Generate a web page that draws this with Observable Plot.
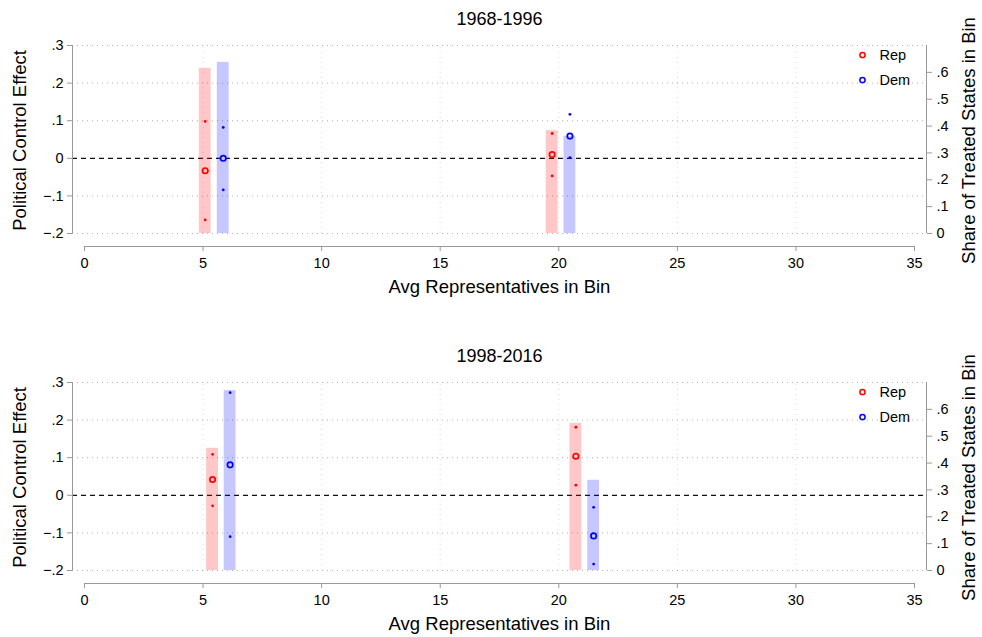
<!DOCTYPE html>
<html><head><meta charset="utf-8">
<script src="https://cdn.jsdelivr.net/npm/d3@7"></script>
<script src="https://cdn.jsdelivr.net/npm/@observablehq/plot@0.6"></script>
<style>
body{margin:0;background:#fff;}
#chart{width:982px;height:637px;background:#fff;}
#chart svg{display:block;}
.gap{height:37px;}
</style></head><body><div id="chart"></div>
<script>
// ---- data ----
const periods = ["1968-1996", "1998-2016"];
const parties = ["Rep", "Dem"];
const partyColors = ["red", "blue"];
const binParty = ["Rep", "Dem", "Rep", "Dem"];
const binX = [[5.09, 5.85, 19.72, 20.47], [5.40, 6.14, 20.72, 21.47]];
const estimate = [[-0.033, 0.000, 0.010, 0.059], [0.042, 0.081, 0.104, -0.108]];
const ciHigh = [[0.098, 0.082, 0.066, 0.117], [0.109, 0.273, 0.181, -0.032]];
const ciLow = [[-0.164, -0.084, -0.047, 0.002], [-0.028, -0.110, 0.027, -0.183]];
const share = [[0.615, 0.637, 0.383, 0.362], [0.455, 0.670, 0.548, 0.336]];
const xTicks = [0, 5, 10, 15, 20, 25, 30, 35];
const yTicks = [-0.2, -0.1, 0, 0.1, 0.2, 0.3];
const shareTicks = [0, 0.1, 0.2, 0.3, 0.4, 0.5, 0.6];
const shareMax = 0.7;
const xTitle = "Avg Representatives in Bin";
const yTitle = "Political Control Effect";
const y2Title = "Share of Treated States in Bin";

const FONT = "'Liberation Sans', Arial, Helvetica, sans-serif";
const yLo = yTicks[0], yHi = yTicks[yTicks.length - 1];
const shareToY = s => yLo + s * (yHi - yLo) / shareMax;
const yToShare = v => (v - yLo) * shareMax / (yHi - yLo);
const fmtDec = d => { const r = Math.round(d * 10) / 10; return r === 0 ? "0" : d3.format(".1f")(r).replace("0.", "."); };

function panel(p) {
  const rows = binX[p].map((x, j) => ({
    x, party: binParty[j], est: estimate[p][j], hi: ciHigh[p][j], lo: ciLow[p][j], share: share[p][j]
  }));
  const legend = parties.flatMap((name, i) => [
    Plot.dot([name], {frameAnchor: "top-right", dx: -64, dy: 9.5 + 25 * i, r: 2.6, stroke: partyColors[i], strokeWidth: 1.5, fill: "none"}),
    Plot.text([name], {frameAnchor: "top-right", dx: -47, dy: 9.5 + 25 * i, text: d => d, textAnchor: "start", lineAnchor: "middle", fontSize: 14.5})
  ]);
  return Plot.plot({
    width: 982, height: 300,
    marginTop: 45, marginBottom: 54, marginLeft: 72, marginRight: 56,
    style: {fontFamily: FONT, background: "white", overflow: "visible"},
    x: {domain: [xTicks[0], xTicks[xTicks.length - 1]], range: [84, 914]},
    y: {domain: [yLo, yHi], range: [233, 45]},
    color: {domain: parties, range: partyColors},
    marks: [
      Plot.ruleX(xTicks.slice(1, -1), {y1: yLo, y2: yHi, stroke: "#dcdcdc", strokeDasharray: "1,4"}),
      Plot.ruleY(yTicks.filter(d => d !== 0), {stroke: "#b0b0b0", strokeDasharray: "1,4"}),
      Plot.ruleY([0], {stroke: "#111", strokeWidth: 1.3, strokeDasharray: "5,4"}),
      Plot.rect(rows, {x1: d => d.x - 0.25, x2: d => d.x + 0.25, y1: shareToY(0), y2: d => shareToY(d.share), fill: "party", fillOpacity: 0.22}),
      // axis lines
      Plot.ruleX([xTicks[0]], {y1: yLo, y2: yHi, dx: -12, stroke: "#999"}),
      Plot.ruleX([xTicks[xTicks.length - 1]], {y1: yLo, y2: yHi, dx: 12, stroke: "#999"}),
      Plot.ruleY([yLo], {x1: xTicks[0], x2: xTicks[xTicks.length - 1], dy: 13, stroke: "#999"}),
      Plot.axisY(yTicks, {anchor: "left", tickSize: 5, tickPadding: 4, tickFormat: fmtDec, fontSize: 14.5, stroke: "#999", fill: "black", label: null}),
      Plot.axisY(shareTicks.map(shareToY), {anchor: "right", tickSize: 5, tickPadding: 5, tickFormat: d => fmtDec(yToShare(d)), fontSize: 14.5, stroke: "#999", fill: "black", label: null}),
      Plot.axisX(xTicks, {anchor: "bottom", tickSize: 5, tickPadding: 6, tickFormat: d => String(d), fontSize: 14.5, stroke: "#999", fill: "black", label: null}),
      // estimates
      Plot.dot(rows, {x: "x", y: "hi", fill: "party", r: 1.4}),
      Plot.dot(rows, {x: "x", y: "lo", fill: "party", r: 1.4}),
      Plot.dot(rows, {x: "x", y: "est", stroke: "party", r: 2.7, strokeWidth: 1.7, fill: "none"}),
      ...legend,
      // titles
      Plot.text([periods[p]], {frameAnchor: "top", dy: -26, text: d => d, lineAnchor: "middle", fontSize: 18}),
      Plot.text([xTitle], {frameAnchor: "bottom", dy: 41, text: d => d, lineAnchor: "middle", fontSize: 18.5}),
      Plot.text([yTitle], {frameAnchor: "left", dx: -52, dy: -5.5, rotate: -90, text: d => d, textAnchor: "middle", lineAnchor: "middle", fontSize: 18.5}),
      Plot.text([y2Title], {frameAnchor: "right", dx: 43, dy: -5.5, rotate: -90, text: d => d, textAnchor: "middle", lineAnchor: "middle", fontSize: 18.5})
    ]
  });
}

const root = document.getElementById("chart");
root.appendChild(panel(0));
const gap = document.createElement("div"); gap.className = "gap"; root.appendChild(gap);
root.appendChild(panel(1));
</script></body></html>
